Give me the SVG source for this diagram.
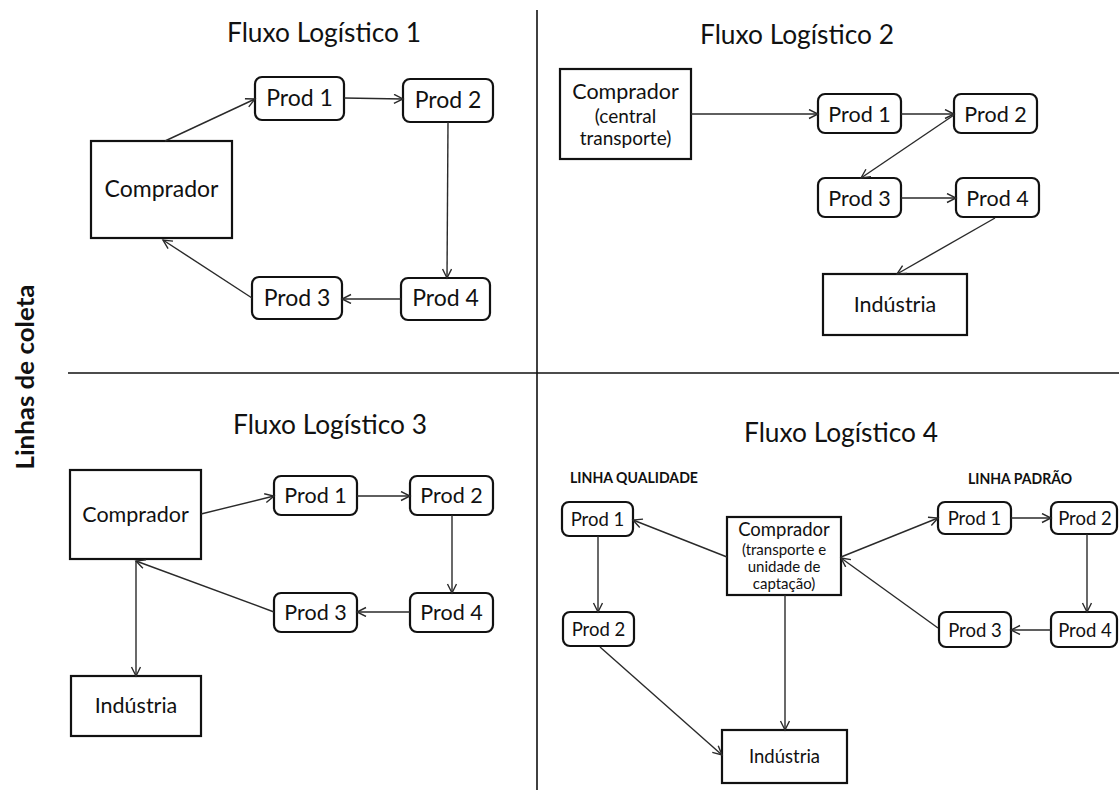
<svg xmlns="http://www.w3.org/2000/svg" width="1119" height="796" viewBox="0 0 1119 796">
<style>
  text { font-family: Lato, "Liberation Sans", sans-serif; fill: #111; text-anchor: middle; }
  .title { font-size: 27px; }
  .box { fill: #fff; stroke: #111; stroke-width: 2.2; }
  .rbox { fill: #fff; stroke: #111; stroke-width: 2.2; }
  .div { stroke: #111; stroke-width: 1.6; fill: none; }
  .con line { stroke: #2a2a2a; stroke-width: 1.4; marker-end: url(#ah); }
  .t1 { font-size: 23px; }
  .t2 { font-size: 21.5px; }
  .t2s { font-size: 19px; }
  .t4 { font-size: 18.5px; }
  .t4s { font-size: 15px; }
  .lbl { font-size: 15px; font-weight: bold; }
</style>
<defs>
  <marker id="ah" markerUnits="userSpaceOnUse" markerWidth="12" markerHeight="12" refX="10" refY="5" orient="auto">
    <path d="M1,0.5 L10,5 L1,9.5" fill="none" stroke="#2a2a2a" stroke-width="1.4"/>
  </marker>
</defs>
<rect width="1119" height="796" fill="#fff"/>

<g id="dividers">
  <line class="div" x1="537" y1="10" x2="537" y2="790"/>
  <line class="div" x1="68" y1="373" x2="1119" y2="373"/>
</g>

<g id="side-label">
  <text transform="translate(34,377) rotate(-90)" style="font-size:24px;font-weight:bold" textLength="185" lengthAdjust="spacingAndGlyphs">Linhas de coleta</text>
</g>

<g id="titles">
  <text class="title" x="324" y="42" textLength="194" lengthAdjust="spacingAndGlyphs">Fluxo Logístico 1</text>
  <text class="title" x="797" y="44" textLength="194" lengthAdjust="spacingAndGlyphs">Fluxo Logístico 2</text>
  <text class="title" x="330" y="434" textLength="194" lengthAdjust="spacingAndGlyphs">Fluxo Logístico 3</text>
  <text class="title" x="841" y="442" textLength="194" lengthAdjust="spacingAndGlyphs">Fluxo Logístico 4</text>
</g>

<!-- Quadrant 1 -->
<g id="q1-comprador"><rect class="box" x="91" y="141" width="141" height="97"/><text class="t1" x="161.5" y="197">Comprador</text></g>
<g id="q1-prod1"><rect class="rbox" x="255" y="77" width="89" height="43" rx="7"/><text class="t1" x="299.5" y="106">Prod 1</text></g>
<g id="q1-prod2"><rect class="rbox" x="403" y="79" width="90" height="43" rx="7"/><text class="t1" x="448" y="108">Prod 2</text></g>
<g id="q1-prod3"><rect class="rbox" x="252" y="277" width="90" height="42" rx="7"/><text class="t1" x="297" y="306">Prod 3</text></g>
<g id="q1-prod4"><rect class="rbox" x="401" y="278" width="89" height="42" rx="7"/><text class="t1" x="445.5" y="306">Prod 4</text></g>

<!-- Quadrant 2 -->
<g id="q2-comprador"><rect class="box" x="560" y="69" width="131" height="90"/>
  <text class="t2" x="625.5" y="99">Comprador</text>
  <text class="t2s" x="625.5" y="123">(central</text>
  <text class="t2s" x="625.5" y="145">transporte)</text></g>
<g id="q2-prod1"><rect class="rbox" x="818" y="94" width="83" height="39" rx="7"/><text class="t2" x="859.5" y="122">Prod 1</text></g>
<g id="q2-prod2"><rect class="rbox" x="954" y="94" width="83" height="39" rx="7"/><text class="t2" x="995.5" y="122">Prod 2</text></g>
<g id="q2-prod3"><rect class="rbox" x="818" y="178" width="83" height="39" rx="7"/><text class="t2" x="859.5" y="206">Prod 3</text></g>
<g id="q2-prod4"><rect class="rbox" x="956" y="178" width="83" height="39" rx="7"/><text class="t2" x="997.5" y="206">Prod 4</text></g>
<g id="q2-industria"><rect class="box" x="823" y="274" width="144" height="61"/><text class="t2" x="895" y="312">Indústria</text></g>

<!-- Quadrant 3 -->
<g id="q3-comprador"><rect class="box" x="70" y="470" width="131" height="89"/><text class="t2" x="135.5" y="522">Comprador</text></g>
<g id="q3-prod1"><rect class="rbox" x="274" y="476" width="83" height="39" rx="7"/><text class="t2" x="315.5" y="503">Prod 1</text></g>
<g id="q3-prod2"><rect class="rbox" x="410" y="476" width="83" height="39" rx="7"/><text class="t2" x="451.5" y="503">Prod 2</text></g>
<g id="q3-prod3"><rect class="rbox" x="274" y="593" width="83" height="39" rx="7"/><text class="t2" x="315.5" y="620">Prod 3</text></g>
<g id="q3-prod4"><rect class="rbox" x="410" y="593" width="83" height="39" rx="7"/><text class="t2" x="451.5" y="620">Prod 4</text></g>
<g id="q3-industria"><rect class="box" x="71" y="676" width="130" height="60"/><text class="t2" x="136" y="713">Indústria</text></g>

<!-- Quadrant 4 -->
<g id="q4-labels">
  <text class="lbl" x="634" y="483" textLength="128" lengthAdjust="spacingAndGlyphs">LINHA QUALIDADE</text>
  <text class="lbl" x="1020" y="484" textLength="104" lengthAdjust="spacingAndGlyphs">LINHA PADRÃO</text>
</g>
<g id="q4-ql-prod1"><rect class="rbox" x="562" y="502" width="71" height="34" rx="7"/><text class="t4" x="597.5" y="526">Prod 1</text></g>
<g id="q4-ql-prod2"><rect class="rbox" x="563" y="612" width="71" height="34" rx="7"/><text class="t4" x="598.5" y="636">Prod 2</text></g>
<g id="q4-comprador"><rect class="box" x="727" y="517" width="114" height="78"/>
  <text class="t4" x="784" y="536">Comprador</text>
  <text class="t4s" x="784" y="555">(transporte e</text>
  <text class="t4s" x="784" y="572">unidade de</text>
  <text class="t4s" x="784" y="589">captação)</text></g>
<g id="q4-industria"><rect class="box" x="722" y="730" width="125" height="53"/><text class="t4" x="784.5" y="763">Indústria</text></g>
<g id="q4-pd-prod1"><rect class="rbox" x="938" y="502" width="73" height="32" rx="7"/><text class="t4" x="974.5" y="525">Prod 1</text></g>
<g id="q4-pd-prod2"><rect class="rbox" x="1051" y="502" width="66" height="32" rx="7"/><text class="t4" x="1085" y="525">Prod 2</text></g>
<g id="q4-pd-prod3"><rect class="rbox" x="939" y="612" width="72" height="35" rx="7"/><text class="t4" x="975" y="637">Prod 3</text></g>
<g id="q4-pd-prod4"><rect class="rbox" x="1051" y="612" width="66" height="35" rx="7"/><text class="t4" x="1085" y="637">Prod 4</text></g>

<g id="connectors" class="con">
  <line x1="165" y1="141" x2="255" y2="99"/>
  <line x1="344" y1="98" x2="403" y2="99"/>
  <line x1="448" y1="122" x2="447" y2="278"/>
  <line x1="401" y1="299" x2="342" y2="299"/>
  <line x1="252" y1="298" x2="163" y2="240"/>

  <line x1="691" y1="114" x2="818" y2="114"/>
  <line x1="901" y1="114" x2="954" y2="114"/>
  <line x1="954" y1="115" x2="861" y2="178"/>
  <line x1="901" y1="198" x2="956" y2="198"/>
  <line x1="995" y1="218" x2="897" y2="274"/>

  <line x1="201" y1="514" x2="274" y2="496"/>
  <line x1="357" y1="496" x2="410" y2="496"/>
  <line x1="452" y1="515" x2="452" y2="593"/>
  <line x1="410" y1="612" x2="357" y2="612"/>
  <line x1="274" y1="612" x2="136" y2="561"/>
  <line x1="136" y1="561" x2="136" y2="676"/>

  <line x1="727" y1="557" x2="633" y2="520"/>
  <line x1="598" y1="536" x2="598" y2="612"/>
  <line x1="600" y1="647" x2="722" y2="755"/>
  <line x1="785" y1="595" x2="785" y2="730"/>
  <line x1="841" y1="557" x2="938" y2="518"/>
  <line x1="1011" y1="518" x2="1051" y2="518"/>
  <line x1="1087" y1="534" x2="1087" y2="612"/>
  <line x1="1051" y1="630" x2="1011" y2="630"/>
  <line x1="938" y1="628" x2="841" y2="558"/>
</g>
</svg>
